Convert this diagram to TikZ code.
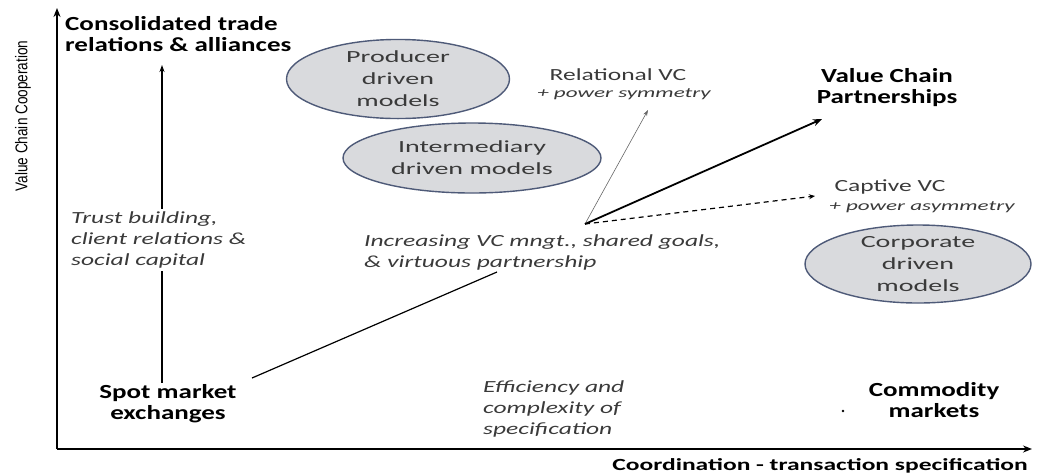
\documentclass[tikz,border=0pt]{standalone}
\usepackage{fontspec}
\setmainfont{Carlito}[FakeStretch=1.35]
\newfontfamily\wideserif{Carlito}[FakeStretch=1.5]
\newfontfamily\widest{Carlito}[FakeStretch=1.65]
\newfontfamily\axisfont{Liberation Sans}[FakeStretch=0.8]
\usetikzlibrary{arrows.meta,shapes.geometric}

\definecolor{modelfill}{HTML}{D9DADD}
\definecolor{modeledge}{HTML}{4E5A78}
\definecolor{notegray}{HTML}{3A3A3A}

\tikzset{
  headline/.style={font=\fontsize{20}{21}\selectfont\bfseries, align=center, inner sep=2pt},
  notetext/.style={font=\wideserif\fontsize{17}{21}\selectfont\itshape, text=notegray, align=left, inner sep=3pt},
  plaintext/.style={font=\wideserif\fontsize{17}{20}\selectfont, text=notegray, align=center, inner sep=1pt},
  subtext/.style={font=\widest\fontsize{14}{16}\selectfont\itshape, text=notegray, inner sep=1pt},
  model/.style={ellipse, draw=modeledge, fill=modelfill, line width=1.4pt, inner sep=0pt,
    font=\widest\fontsize{17}{22}\selectfont, text=notegray, align=center},
  axis/.style={line width=2.4pt, -{Stealth[length=9pt,width=7pt]}},
  link/.style={line width=1.2pt},
}

\begin{document}
\begin{tikzpicture}[x=1pt,y=-1pt]
\useasboundingbox (0,0) rectangle (1041,475);

% axes
\coordinate (origin) at (57,449);
\coordinate (ytop) at (57,8);
\coordinate (xend) at (1032,449);
\draw[axis] (origin) -- (ytop);
\draw[axis, line width=2pt] (origin) -- (xend);

\node[font=\axisfont\fontsize{17}{19}\selectfont, rotate=90] (ylab) at (23,116) {Value Chain Cooperation};
\node[font=\wideserif\fontsize{17}{20}\selectfont\bfseries, anchor=east, inner sep=0pt] (xlab) at (1028,466) {Coordination - transaction specification};

% end points of the cooperation scale
\node[headline, anchor=north west, align=left] (cons) at (63,14) {Consolidated trade\\relations \& alliances};
\node[headline] (spot) at (168,404) {Spot market\\exchanges};
\node[headline] (comm) at (934,400) {Commodity\\markets};
\fill (843,411) circle (1.4pt);

% governance models
\node[model, minimum width=223pt, minimum height=75pt] (prod) at (398,79) {Producer\\driven\\models};
\node[model, minimum width=258pt, minimum height=70pt] (inter) at (472,158) {Intermediary\\driven models};
\node[model, minimum width=226pt, minimum height=70pt] (corp) at (918,264) {Corporate\\driven\\models};

% value chain outcomes
\node[plaintext] (rel) at (618,75) {Relational VC};
\node[subtext] (relsub) at (624,94) {+ power symmetry};
\node[headline] (vcp) at (887,88) {Value Chain\\Partnerships};
\node[plaintext] (cap) at (890,187) {Captive VC};
\node[subtext] (capsub) at (922,207) {+ power asymmetry};

% notes
\node[notetext, anchor=west] (trust) at (68,240) {Trust building,\\client relations \&\\social capital};
\node[notetext, anchor=west] (incr) at (361,252) {Increasing VC mngt., shared goals,\\\& virtuous partnership};
\node[notetext, anchor=north west] (eff) at (480,377) {Efficiency and\\complexity of\\specification};

% vertical progression
\coordinate (uptip) at (162,65);
\draw[link] (spot.north -| uptip) -- (trust.south -| uptip);
\draw[link, -{Stealth[length=7pt,width=5pt]}] (trust.north -| uptip) -- (uptip);

% diagonal progression
\coordinate (spotout) at (252,378);
\coordinate (incrin) at (497,272);
\coordinate (hub) at (585,224);
\coordinate (reltip) at (648,110);
\coordinate (vcptip) at (822,119);
\coordinate (captip) at (815,196);
\draw[link] (spotout) -- (incrin);
\draw[line width=0.6pt, draw=black!60, -{Stealth[length=6pt,width=4pt]}] (hub) -- (reltip);
\draw[line width=1.8pt, -{Stealth[length=9pt,width=7pt]}] (hub) -- (vcptip);
\draw[link, dashed, dash pattern=on 5pt off 4pt, -{Stealth[length=6pt,width=5pt]}] (hub) -- (captip);
\end{tikzpicture}
\end{document}
